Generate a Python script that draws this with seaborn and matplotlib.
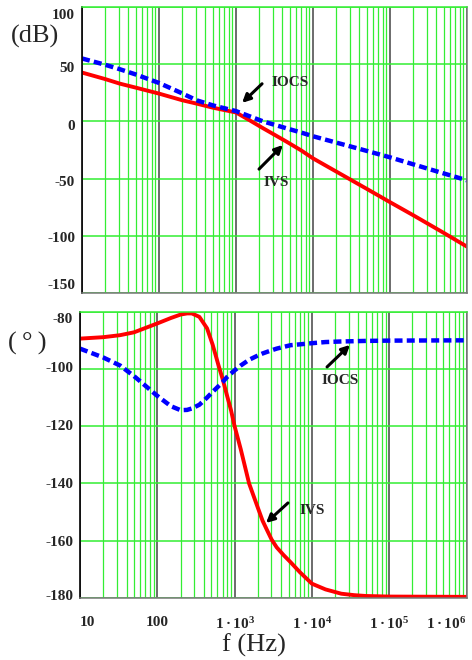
import matplotlib
matplotlib.use("Agg")
import matplotlib.pyplot as plt
import matplotlib.ticker as mticker
import matplotlib.transforms as mtrans
import seaborn as sns

# ---------------- data ----------------
mag_freq = [10, 20, 31, 50, 100, 200, 310, 500, 1000, 1500, 2250, 3000, 4500,
            7000, 1e4, 2e4, 5e4, 1e5, 2e5, 5e5, 1e6]
ivs_mag = [42.7, 37, 33, 29.5, 24.3, 18.5, 15.5, 12, 7.8, 1.0, -6, -10.8, -17.6,
           -25.3, -32.3, -43.8, -59, -70.6, -82, -97.5, -109.5]
iocs_mag = [55, 49.5, 45.6, 41, 33.6, 24.5, 18.4, 14.0, 9, 4.5, 0, -2.5, -6,
            -9.7, -13, -18.5, -25.8, -31.4, -37.5, -45.5, -51.5]

ph_freq = [10, 20, 33, 50, 100, 150, 200, 243, 280, 350, 440, 520, 620, 700,
           800, 900, 1000, 1200, 1540, 2000, 2300, 2650, 3000, 3500, 4300,
           5300, 7000, 1e4, 1.5e4, 2.4e4, 3.5e4, 5e4, 1e5, 1e6]
ivs_phase = [-89.4, -88.9, -88.2, -87.2, -84.1, -82.2, -81.0, -80.6, -80.6,
             -81.8, -85.8, -91.5, -98.8, -103.5, -109.4, -114.5, -120, -128,
             -140, -148.5, -153, -156.5, -159.5, -162.3, -165, -167.5, -171,
             -175, -177, -178.5, -179, -179.3, -179.5, -179.6]
iocs_phase = [-92.9, -96, -98.8, -102.5, -109.4, -113, -114.4, -114.3, -113.8,
              -112.5, -110, -108, -106, -104.6, -102.8, -101.6, -100.5, -98.8,
              -96.8, -95.3, -94.6, -94, -93.5, -92.9, -92.3, -91.7, -91.4, -91,
              -90.6, -90.4, -90.3, -90.2, -90.1, -90]

x_ticks = [10, 100, 1e3, 1e4, 1e5, 1e6]
x_ticklabels = ["10", "100", r"$\mathregular{1\,·\,10^{3}}$",
                r"$\mathregular{1\,·\,10^{4}}$", r"$\mathregular{1\,·\,10^{5}}$",
                r"$\mathregular{1\,·\,10^{6}}$"]
mag_ticks = [100, 50, 0, -50, -100, -150]
phase_ticks = [-80, -100, -120, -140, -160, -180]

# ---------------- style ----------------
sns.set_style("white")
plt.rcParams["font.family"] = ["Liberation Serif", "DejaVu Serif"]
plt.rcParams["axes.unicode_minus"] = False
plt.rcParams["mathtext.fontset"] = "custom"
plt.rcParams["mathtext.rm"] = "Liberation Serif:bold"
plt.rcParams["mathtext.bf"] = "Liberation Serif:bold"

GREEN = "#33ee33"
DARK = "#444444"
RED = "#ff0000"
BLUE = "#0000ff"
DASH = (0, (1.8, 0.95))

fig = plt.figure(figsize=(4.72, 6.6), dpi=100)
ax1 = fig.add_axes([82 / 472, 1 - 293 / 660, 385 / 472, 286 / 660])
ax2 = fig.add_axes([80 / 472, 1 - 598 / 660, 386.5 / 472, 286.3 / 660])


def shift(text, dy_px):
    text.set_transform(text.get_transform() +
                       mtrans.ScaledTranslation(0, -dy_px / 100, fig.dpi_scale_trans))


def style_axes(ax, yticks, ylim, offsets):
    ax.set_xscale("log")
    ax.set_xlim(10, 1e6)
    ax.set_ylim(*ylim)
    ax.set_axisbelow(True)
    ax.xaxis.set_major_locator(mticker.FixedLocator(x_ticks))
    ax.xaxis.set_minor_locator(mticker.LogLocator(base=10, subs=range(2, 10), numticks=50))
    ax.xaxis.set_minor_formatter(mticker.NullFormatter())
    ax.set_yticks(yticks)
    ax.set_yticklabels([str(v) for v in yticks])
    ax.grid(which="minor", axis="x", color=GREEN, lw=0.9)
    ax.grid(which="major", axis="x", color=DARK, lw=1.1)
    ax.grid(which="major", axis="y", color=GREEN, lw=1.1)
    ax.tick_params(which="both", length=0)
    ax.tick_params(axis="y", labelsize=11, pad=5)
    for lab, dy in zip(ax.get_yticklabels(), offsets):
        lab.set_fontweight("bold")
        shift(lab, dy)
    ax.spines["left"].set_color("black")
    ax.spines["left"].set_linewidth(1.2)
    ax.spines["top"].set_color(GREEN)
    ax.spines["top"].set_linewidth(1.1)
    for s in ("bottom", "right"):
        ax.spines[s].set_color("#777777")
        ax.spines[s].set_linewidth(1.1)
    ax.set_xlabel("")
    ax.set_ylabel("")


# ---------------- magnitude panel ----------------
sns.lineplot(x=mag_freq, y=ivs_mag, ax=ax1, color=RED, lw=2.8)
sns.lineplot(x=mag_freq, y=iocs_mag, ax=ax1, color=BLUE, lw=3.2, linestyle=DASH)
style_axes(ax1, mag_ticks, (-150, 100), [7, 3, 4, 2, 1, -9])
ax1.set_xticklabels([])

# ---------------- phase panel ----------------
sns.lineplot(x=ph_freq, y=ivs_phase, ax=ax2, color=RED, lw=2.8)
sns.lineplot(x=ph_freq, y=iocs_phase, ax=ax2, color=BLUE, lw=3.2, linestyle=DASH)
style_axes(ax2, phase_ticks, (-180, -80), [6, -2, -1, 0, 0, -3])
ax2.set_xticks(x_ticks)
ax2.set_xticklabels(x_ticklabels)
ax2.tick_params(axis="x", labelsize=11, pad=13)
for lab in ax2.get_xticklabels():
    lab.set_fontweight("bold")
xl = ax2.get_xticklabels()
xl[-1].set_horizontalalignment("right")
xl[0].set_horizontalalignment("left")

# ---------------- annotations ----------------
arrow = dict(arrowstyle="-|>", color="black", lw=2.2, mutation_scale=12,
             shrinkA=0, shrinkB=0)
txt = dict(fontsize=11, fontweight="bold", ha="center", va="center")

ax1.annotate("", xy=(1.2e3, 16.2), xytext=(2.18e3, 32.9), arrowprops=arrow)
ax1.text(5.0e3, 33.8, "IOCS", **txt)
ax1.annotate("", xy=(4.07e3, -20.6), xytext=(1.99e3, -41.7), arrowprops=arrow)
ax1.text(3.3e3, -53, "IVS", **txt)

ax2.annotate("", xy=(3.11e4, -91.6), xytext=(1.57e4, -99.3), arrowprops=arrow)
ax2.text(2.31e4, -103.9, "IOCS", **txt)
ax2.annotate("", xy=(2.55e3, -153.8), xytext=(4.9e3, -146.8), arrowprops=arrow)
ax2.text(1.0e4, -149.6, "IVS", **txt)

# ---------------- axis titles ----------------
fig.text(35 / 472, 1 - 36 / 660, "(dB)", fontsize=19, ha="center", va="center")
fig.text(27 / 472, 1 - 343 / 660, "(\u2009°\u2009)", fontsize=19, ha="center", va="center")
fig.text(254 / 472, 1 - 645 / 660, "f (Hz)", fontsize=19, ha="center", va="center")

fig.savefig("out.png", dpi=100)
